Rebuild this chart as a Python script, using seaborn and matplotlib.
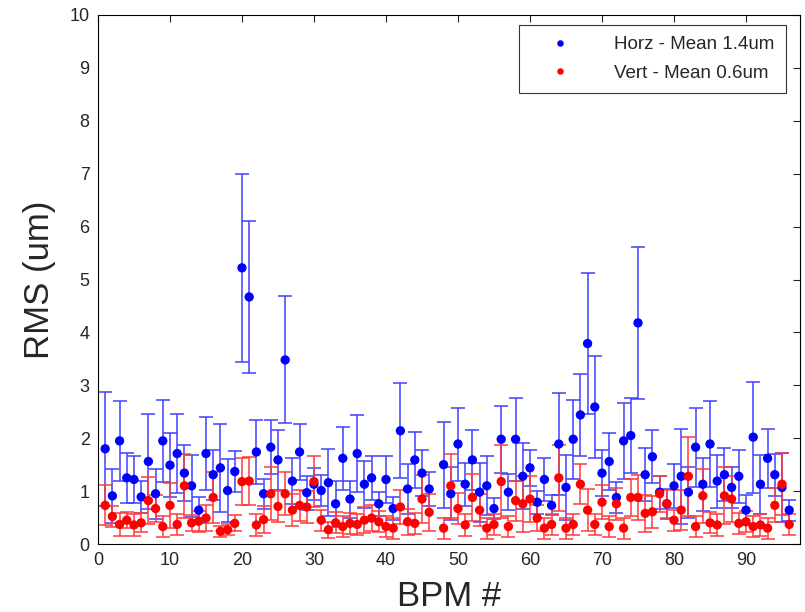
import numpy as np
import pandas as pd
import matplotlib
matplotlib.use("Agg")
import matplotlib.pyplot as plt
import seaborn as sns

nan = np.nan

# BPM numbers 1..96 (BPM 47 has no reading)
bpm = list(range(1, 97))

horz_rms = [1.80, 0.91, 1.95, 1.25, 1.22, 0.89, 1.56, 0.95, 1.95, 1.49,
            1.71, 1.34, 1.10, 0.64, 1.71, 1.31, 1.44, 1.01, 1.37, 5.22,
            4.67, 1.74, 0.95, 1.83, 1.59, 3.48, 1.19, 1.74, 0.97, 1.13,
            1.01, 1.16, 0.76, 1.62, 0.85, 1.71, 1.13, 1.25, 0.76, 1.22,
            0.67, 2.14, 1.04, 1.59, 1.34, 1.04, nan, 1.50, 0.95, 1.89,
            1.13, 1.59, 0.98, 1.10, 0.67, 1.98, 0.98, 1.98, 1.28, 1.44,
            0.79, 1.22, 0.73, 1.89, 1.07, 1.98, 2.44, 3.79, 2.59, 1.34,
            1.56, 0.88, 1.95, 2.05, 4.18, 1.31, 1.65, 0.98, 0.76, 1.10,
            1.28, 0.98, 1.83, 1.13, 1.89, 1.19, 1.31, 1.07, 1.28, 0.64,
            2.02, 1.13, 1.62, 1.31, 1.07, 0.64]

horz_err = [1.08, 0.51, 0.75, 0.47, 0.44, 0.31, 0.89, 0.47, 0.78, 0.60,
            0.74, 0.53, 0.59, 0.25, 0.69, 0.47, 0.83, 0.59, 0.38, 1.78,
            1.43, 0.60, 0.28, 0.51, 0.56, 1.20, 0.44, 0.53, 0.32, 0.30,
            0.30, 0.63, 0.44, 0.60, 0.35, 0.72, 0.44, 0.41, 0.23, 0.44,
            0.22, 0.90, 0.47, 0.53, 0.44, 0.32, nan, 0.81, 0.50, 0.69,
            0.41, 0.56, 0.56, 0.56, 0.20, 0.63, 0.34, 0.78, 0.62, 0.34,
            0.22, 0.41, 0.19, 0.96, 0.62, 0.75, 0.78, 1.34, 0.97, 0.44,
            0.53, 0.29, 0.72, 0.71, 1.43, 0.50, 0.50, 0.31, 0.28, 0.41,
            0.90, 0.48, 0.75, 0.50, 0.81, 0.50, 0.50, 0.39, 0.50, 0.28,
            1.05, 0.56, 0.56, 0.40, 0.65, 0.20]

vert_rms = [0.73, 0.52, 0.37, 0.45, 0.36, 0.40, 0.82, 0.67, 0.33, 0.73,
            0.37, 1.10, 0.40, 0.43, 0.49, 0.88, 0.24, 0.27, 0.39, 1.18,
            1.19, 0.36, 0.46, 0.95, 0.71, 0.95, 0.64, 0.73, 0.70, 1.18,
            0.45, 0.27, 0.40, 0.33, 0.39, 0.37, 0.45, 0.49, 0.42, 0.33,
            0.30, 0.70, 0.42, 0.39, 0.85, 0.60, nan, 0.30, 1.10, 0.67,
            0.36, 0.88, 0.64, 0.30, 0.37, 1.18, 0.33, 0.82, 0.76, 0.85,
            0.49, 0.30, 0.37, 1.25, 0.30, 0.37, 1.13, 0.64, 0.37, 0.79,
            0.33, 0.76, 0.30, 0.88, 0.88, 0.58, 0.61, 0.95, 0.76, 0.45,
            0.64, 1.28, 0.33, 0.91, 0.40, 0.36, 0.91, 0.85, 0.39, 0.42,
            0.33, 0.36, 0.30, 0.73, 1.13, 0.37]

vert_err = [0.38, 0.20, 0.22, 0.15, 0.20, 0.18, 0.45, 0.26, 0.20, 0.42,
            0.20, 0.60, 0.15, 0.20, 0.25, 0.48, 0.10, 0.10, 0.15, 0.45,
            0.45, 0.20, 0.25, 0.50, 0.30, 0.41, 0.30, 0.30, 0.30, 0.48,
            0.20, 0.15, 0.20, 0.20, 0.20, 0.20, 0.25, 0.25, 0.20, 0.20,
            0.20, 0.32, 0.25, 0.20, 0.45, 0.35, nan, 0.20, 0.60, 0.30,
            0.20, 0.44, 0.30, 0.20, 0.20, 0.69, 0.20, 0.38, 0.53, 0.44,
            0.25, 0.20, 0.20, 0.63, 0.20, 0.20, 0.38, 0.40, 0.20, 0.32,
            0.20, 0.30, 0.20, 0.35, 0.42, 0.35, 0.30, 0.34, 0.26, 0.20,
            0.38, 0.75, 0.20, 0.51, 0.20, 0.20, 0.54, 0.44, 0.20, 0.20,
            0.20, 0.20, 0.20, 0.32, 0.59, 0.20]

labels = ["Horz - Mean 1.4um", "Vert - Mean 0.6um"]

sns.set_style("white")
plt.rcParams['font.family'] = ['Liberation Sans', 'DejaVu Sans']

df = pd.DataFrame({
    "bpm": bpm * 2,
    "rms": horz_rms + vert_rms,
    "err": horz_err + vert_err,
    "plane": [labels[0]] * len(bpm) + [labels[1]] * len(bpm),
})

fig, ax = plt.subplots(figsize=(8.05, 6.12), dpi=100)
fig.subplots_adjust(left=0.1217, right=0.9938, top=0.9755, bottom=0.1111)

colors = {labels[0]: "#0000ff", labels[1]: "#ff0000"}
bar_colors = {labels[0]: "#4040ff", labels[1]: "#ff3a3a"}

for name in labels:
    sub = df[df["plane"] == name]
    ax.errorbar(sub["bpm"], sub["rms"], yerr=sub["err"], fmt="none",
                ecolor=bar_colors[name], elinewidth=1.1, capsize=5,
                capthick=1.1, zorder=2)

sns.scatterplot(data=df, x="bpm", y="rms", hue="plane", palette=colors,
                s=45, edgecolor="none", ax=ax, zorder=3)

ax.set_xlim(0, 97.5)
ax.set_ylim(0, 10)
ax.set_xticks(range(0, 91, 10))
ax.set_yticks(range(0, 11))
ax.tick_params(direction="in", length=5, width=0.8, labelsize=13,
               top=True, right=True, pad=6)
for sp in ax.spines.values():
    sp.set_linewidth(0.8)
    sp.set_color("black")

ax.set_xlabel("BPM #", fontsize=25, labelpad=8)
ax.set_ylabel("RMS (um)", fontsize=25, labelpad=10)

leg = ax.legend(loc="upper right", fontsize=13.5, frameon=True, fancybox=False,
                edgecolor="black", borderpad=0.6, handlelength=3.2,
                handletextpad=1.3, labelspacing=0.6,
                bbox_to_anchor=(0.98, 0.981), borderaxespad=0,
                markerscale=0.7)
leg.get_frame().set_linewidth(0.8)

fig.savefig("out.png", dpi=100)
